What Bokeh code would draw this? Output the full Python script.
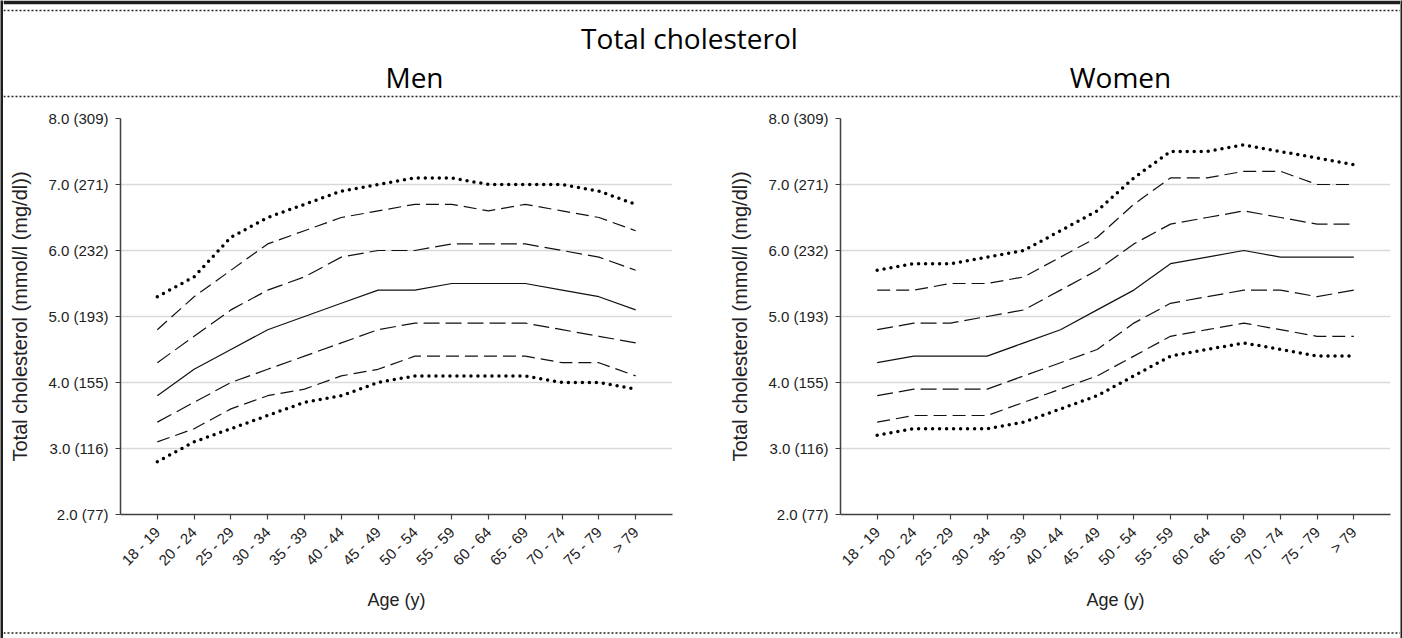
import math
from bokeh.plotting import figure
from bokeh.layouts import column, row
from bokeh.models import Range1d, FixedTicker, Span
from bokeh.core.properties import value
from bokeh.embed import file_html
from bokeh.resources import INLINE

# ---------------- data ----------------
ages = ["18 - 19", "20 - 24", "25 - 29", "30 - 34", "35 - 39", "40 - 44", "45 - 49",
        "50 - 54", "55 - 59", "60 - 64", "65 - 69", "70 - 74", "75 - 79", "> 79"]

men_p97_5 = [5.3, 5.6, 6.2, 6.5, 6.7, 6.9, 7.0, 7.1, 7.1, 7.0, 7.0, 7.0, 6.9, 6.7]
men_p90   = [4.8, 5.3, 5.7, 6.1, 6.3, 6.5, 6.6, 6.7, 6.7, 6.6, 6.7, 6.6, 6.5, 6.3]
men_p75   = [4.3, 4.7, 5.1, 5.4, 5.6, 5.9, 6.0, 6.0, 6.1, 6.1, 6.1, 6.0, 5.9, 5.7]
men_p50   = [3.8, 4.2, 4.5, 4.8, 5.0, 5.2, 5.4, 5.4, 5.5, 5.5, 5.5, 5.4, 5.3, 5.1]
men_p25   = [3.4, 3.7, 4.0, 4.2, 4.4, 4.6, 4.8, 4.9, 4.9, 4.9, 4.9, 4.8, 4.7, 4.6]
men_p10   = [3.1, 3.3, 3.6, 3.8, 3.9, 4.1, 4.2, 4.4, 4.4, 4.4, 4.4, 4.3, 4.3, 4.1]
men_p2_5  = [2.8, 3.1, 3.3, 3.5, 3.7, 3.8, 4.0, 4.1, 4.1, 4.1, 4.1, 4.0, 4.0, 3.9]

women_p97_5 = [5.7, 5.8, 5.8, 5.9, 6.0, 6.3, 6.6, 7.1, 7.5, 7.5, 7.6, 7.5, 7.4, 7.3]
women_p90   = [5.4, 5.4, 5.5, 5.5, 5.6, 5.9, 6.2, 6.7, 7.1, 7.1, 7.2, 7.2, 7.0, 7.0]
women_p75   = [4.8, 4.9, 4.9, 5.0, 5.1, 5.4, 5.7, 6.1, 6.4, 6.5, 6.6, 6.5, 6.4, 6.4]
women_p50   = [4.3, 4.4, 4.4, 4.4, 4.6, 4.8, 5.1, 5.4, 5.8, 5.9, 6.0, 5.9, 5.9, 5.9]
women_p25   = [3.8, 3.9, 3.9, 3.9, 4.1, 4.3, 4.5, 4.9, 5.2, 5.3, 5.4, 5.4, 5.3, 5.4]
women_p10   = [3.4, 3.5, 3.5, 3.5, 3.7, 3.9, 4.1, 4.4, 4.7, 4.8, 4.9, 4.8, 4.7, 4.7]
women_p2_5  = [3.2, 3.3, 3.3, 3.3, 3.4, 3.6, 3.8, 4.1, 4.4, 4.5, 4.6, 4.5, 4.4, 4.4]

y_ticks = [2, 3, 4, 5, 6, 7, 8]
y_tick_labels = ["2.0 (77)", "3.0 (116)", "4.0 (155)", "5.0 (193)", "6.0 (232)", "7.0 (271)", "8.0 (309)"]

title_text = "Total cholesterol"
panel_titles = ["Men", "Women"]
y_label = "Total cholesterol (mmol/l (mg/dl))"
x_label = "Age (y)"

# ---------------- styling ----------------
TICK_FONT = "Liberation Sans"
TITLE_FONT = "Open Sans"
DARK = "#1e1e1e"
PAGE_W = 1402
PAGE_H = 638
LEFT_STRIP = 3
RIGHT_STRIP = 2
CONTENT_W = PAGE_W - LEFT_STRIP - RIGHT_STRIP
HEADER_H = 108
PANEL_H = 518
FOOTER_H = PAGE_H - HEADER_H - PANEL_H
LEFT_W = 726 - LEFT_STRIP
RIGHT_W = CONTENT_W - LEFT_W

dotted = dict(line_color="black", line_width=3.5, line_dash="0 7", line_cap="round")
dash_a = dict(line_color="#111111", line_width=1.2, line_dash="13 6")
dash_b = dict(line_color="#111111", line_width=1.2, line_dash="16 6")
solid = dict(line_color="#111111", line_width=1.2)
sep_line = dict(line_color="#222222", line_width=1.7, line_dash="2 2")


def blank(width, height, fill):
    f = figure(width=width, height=height, output_backend="svg", toolbar_location=None,
               min_border=0, x_range=Range1d(0, 1), y_range=Range1d(0, 1))
    f.axis.visible = False
    f.grid.visible = False
    f.outline_line_color = None
    f.background_fill_color = fill
    f.border_fill_color = fill
    return f


def make_panel(series, width, left_border, right_border):
    p = figure(width=width, height=PANEL_H, output_backend="svg", toolbar_location=None,
               x_range=Range1d(-1, len(ages)), y_range=Range1d(2, 8),
               min_border_left=left_border, min_border_right=right_border,
               min_border_top=10, min_border_bottom=PANEL_H - 10 - 396)
    p.outline_line_color = None
    p.background_fill_color = "white"
    p.border_fill_color = "white"
    xs = list(range(len(ages)))
    p97, p90, p75, p50, p25, p10, p2 = series
    p.line(xs, p97, **dotted)
    p.line(xs, p90, **dash_a)
    p.line(xs, p75, **dash_b)
    p.line(xs, p50, **solid)
    p.line(xs, p25, **dash_b)
    p.line(xs, p10, **dash_a)
    p.line(xs, p2, **dotted)

    p.xgrid.grid_line_color = None
    p.ygrid.grid_line_color = "#d9d9d9"
    p.ygrid.grid_line_width = 1.5

    xa = p.xaxis[0]
    xa.ticker = FixedTicker(ticks=xs)
    xa.major_label_overrides = {i: a for i, a in enumerate(ages)}
    xa.major_label_orientation = math.pi / 4
    xa.minor_tick_line_color = None
    xa.major_tick_in = 0
    xa.major_tick_out = 5
    xa.axis_line_color = "#404040"
    xa.axis_line_width = 1.5
    xa.major_tick_line_color = "#404040"
    xa.major_tick_line_width = 1.2
    xa.major_label_text_font = TICK_FONT
    xa.major_label_text_font_size = "15px"
    xa.major_label_text_color = "#222222"
    xa.major_label_standoff = 10
    xa.axis_label = x_label
    xa.axis_label_text_font = TICK_FONT
    xa.axis_label_text_font_size = "18px"
    xa.axis_label_text_font_style = "normal"
    xa.axis_label_text_color = "#222222"
    xa.axis_label_standoff = 12

    ya = p.yaxis[0]
    ya.ticker = FixedTicker(ticks=y_ticks)
    ya.major_label_overrides = {t: l for t, l in zip(y_ticks, y_tick_labels)}
    ya.minor_tick_line_color = None
    ya.major_tick_in = 0
    ya.major_tick_out = 5
    ya.axis_line_color = "#404040"
    ya.axis_line_width = 1.5
    ya.major_tick_line_color = "#404040"
    ya.major_tick_line_width = 1.2
    ya.major_label_text_font = TICK_FONT
    ya.major_label_text_font_size = "15px"
    ya.major_label_text_color = "#222222"
    ya.major_label_standoff = 7
    ya.axis_label = y_label
    ya.axis_label_text_font = TICK_FONT
    ya.axis_label_text_font_size = "20px"
    ya.axis_label_text_font_style = "normal"
    ya.axis_label_text_color = "#222222"
    ya.axis_label_standoff = 14
    return p


# ---------------- header (frame spans page x 3..1400, page y 4..108) ----------------
header = figure(width=CONTENT_W, height=HEADER_H, output_backend="svg", toolbar_location=None,
                x_range=Range1d(LEFT_STRIP, PAGE_W - RIGHT_STRIP), y_range=Range1d(0, HEADER_H - 4),
                min_border_left=0, min_border_right=0, min_border_bottom=0, min_border_top=4)
header.axis.visible = False
header.grid.visible = False
header.outline_line_color = None
header.border_fill_color = DARK
header.background_fill_color = "white"
header.text(x=[689], y=[HEADER_H - 37], text=[title_text], text_font=value(TITLE_FONT),
            text_font_size="28px", text_align="center", text_baseline="middle",
            text_color="black")
header.text(x=[414, 1120], y=[HEADER_H - 76, HEADER_H - 76], text=panel_titles,
            text_font=value(TITLE_FONT), text_font_size="28px", text_align="center",
            text_baseline="middle", text_color="black")
header.add_layout(Span(location=HEADER_H - 10, dimension="width", **sep_line))
header.add_layout(Span(location=HEADER_H - 96, dimension="width", **sep_line))

# ---------------- panels ----------------
men = make_panel([men_p97_5, men_p90, men_p75, men_p50, men_p25, men_p10, men_p2_5],
                 LEFT_W, 120 - LEFT_STRIP, LEFT_W - (120 - LEFT_STRIP) - 552)
women = make_panel([women_p97_5, women_p90, women_p75, women_p50, women_p25, women_p10, women_p2_5],
                   RIGHT_W, 112, RIGHT_W - 112 - 552)

# ---------------- footer ----------------
footer = figure(width=CONTENT_W, height=FOOTER_H, output_backend="svg", toolbar_location=None,
                x_range=Range1d(0, CONTENT_W), y_range=Range1d(0, FOOTER_H), min_border=0)
footer.axis.visible = False
footer.grid.visible = False
footer.outline_line_color = None
footer.add_layout(Span(location=PAGE_H - 632.5, dimension="width", **sep_line))

left_strip = blank(LEFT_STRIP, PAGE_H, DARK)
right_strip = blank(RIGHT_STRIP, PAGE_H, DARK)

layout = row(left_strip, column(header, row(men, women), footer), right_strip)

open("out.html", "w").write(file_html(layout, INLINE))
